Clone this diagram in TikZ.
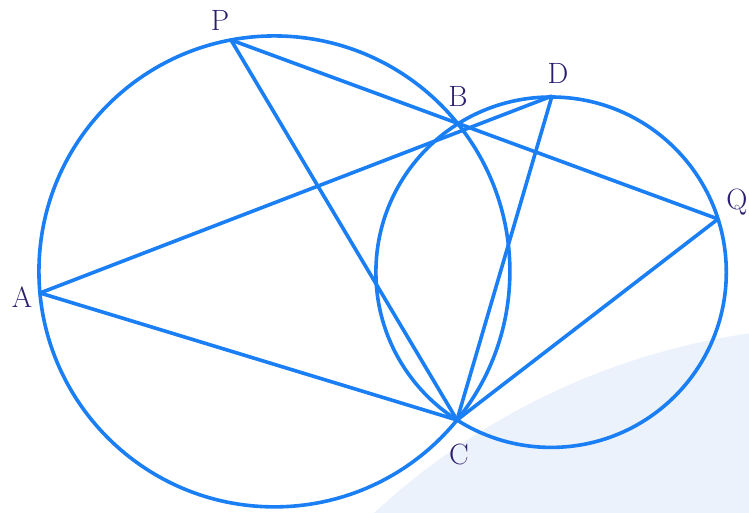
\documentclass[tikz,border=0pt]{standalone}
\usepackage{xcolor}
\definecolor{lineblue}{HTML}{1A7EF4}
\definecolor{labelnavy}{HTML}{2B1E6E}
\definecolor{paleblue}{HTML}{ECF2FB}

\begin{document}
\begin{tikzpicture}[x=0.75pt,y=-0.75pt,
  geo/.style={draw=lineblue,line width=2.7pt},
  lbl/.style={text=labelnavy,font=\fontsize{22}{26}\selectfont}]
  \useasboundingbox (0,0) rectangle (749,513);
  % pale backdrop
  \begin{scope}
    \clip (0,0) rectangle (749,513);
    \fill[paleblue] (851,1028) circle[radius=526.5pt];
  \end{scope}
  % points
  \coordinate (A) at (40,293);  \coordinate (P) at (231,40);
  \coordinate (B) at (458,125); \coordinate (D) at (552,96);
  \coordinate (Q) at (718,219); \coordinate (C) at (457,420);
  % circles
  \draw[geo] (274.4,271.4) circle[radius=176.6pt];
  \draw[geo] (551.1,272.2) circle[radius=131.4pt];
  % chords
  \draw[geo] (P)--(Q); \draw[geo] (A)--(D);
  \draw[geo] (P)--(C); \draw[geo] (A)--(C);
  \draw[geo] (D)--(C); \draw[geo] (C)--(Q);
  % labels
  \node[lbl] (lA) at (22,297) {A}; \node[lbl] (lP) at (220,20) {P};
  \node[lbl] (lB) at (458,96) {B}; \node[lbl] (lD) at (558,73) {D};
  \node[lbl] (lQ) at (737,202) {Q}; \node[lbl] (lC) at (459,454) {C};
\end{tikzpicture}
\end{document}
